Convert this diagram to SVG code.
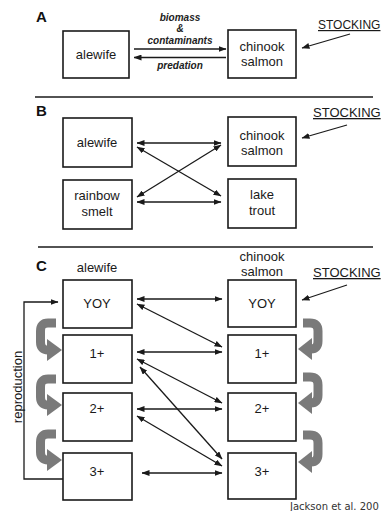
<svg xmlns="http://www.w3.org/2000/svg" width="381" height="511" viewBox="0 0 381 511">
  <style>
    .box { fill: #fff; stroke: #1a1a1a; stroke-width: 1.6; }
    .lbl { font-family: "Liberation Sans", Arial, sans-serif; font-size: 13px; fill: #1a1a1a; text-anchor: middle; }
    .panel { font-family: "Liberation Sans", Arial, sans-serif; font-size: 15px; font-weight: bold; fill: #111; }
    .flow { font-family: "Liberation Sans", Arial, sans-serif; font-size: 10px; font-weight: bold; font-style: italic; fill: #222; text-anchor: middle; }
    .stock { font-family: "Liberation Sans", Arial, sans-serif; font-size: 13px; fill: #1a1a1a; text-decoration: underline; }
    .link { stroke: #1a1a1a; stroke-width: 1.3; fill: none; }
    .both { marker-start: url(#head); marker-end: url(#head); }
    .one { marker-end: url(#head); }
    .rule { stroke: #1a1a1a; stroke-width: 1.6; }
    .hook { stroke: #7a7a7a; stroke-width: 9; fill: none; }
    .hookhead { fill: #7a7a7a; }
    .cite { font-family: "DejaVu Sans", sans-serif; font-size: 10px; fill: #333; }
  </style>
  <defs>
    <marker id="head" viewBox="0 0 8 6" refX="7.5" refY="3" markerWidth="8" markerHeight="6" markerUnits="userSpaceOnUse" orient="auto-start-reverse">
      <path d="M0,0 L8,3 L0,6 Z" fill="#1a1a1a"/>
    </marker>
  </defs>

  <rect width="381" height="511" fill="#fff"/>

  <!-- panel letters and separators -->
  <text class="panel" x="36" y="22">A</text>
  <text class="panel" x="36" y="116">B</text>
  <text class="panel" x="36" y="271">C</text>
  <line class="rule" x1="35" y1="97" x2="373" y2="97"/>
  <line class="rule" x1="38" y1="247" x2="373" y2="247"/>

  <!-- ===== Panel A ===== -->
  <g id="a-alewife">
    <rect class="box" x="63" y="31" width="66" height="47"/>
    <text class="lbl" x="96" y="59">alewife</text>
  </g>
  <g id="a-chinook">
    <rect class="box" x="228" y="30" width="68" height="48"/>
    <text class="lbl" x="262" y="51">chinook</text>
    <text class="lbl" x="262" y="66">salmon</text>
  </g>
  <g id="a-stocking">
    <text class="stock" x="318" y="29" style="font-size:12px">STOCKING</text>
  </g>
  <g id="a-flow-labels">
    <text class="flow" x="180" y="21">biomass</text>
    <text class="flow" x="180" y="32">&amp;</text>
    <text class="flow" x="180" y="44">contaminants</text>
    <text class="flow" x="180" y="69">predation</text>
  </g>

  <!-- ===== Panel B ===== -->
  <g id="b-alewife">
    <rect class="box" x="63" y="118" width="69" height="49"/>
    <text class="lbl" x="97" y="147">alewife</text>
  </g>
  <g id="b-chinook">
    <rect class="box" x="228" y="117" width="68" height="49"/>
    <text class="lbl" x="262" y="140">chinook</text>
    <text class="lbl" x="262" y="155">salmon</text>
  </g>
  <g id="b-smelt">
    <rect class="box" x="63" y="180" width="69" height="49"/>
    <text class="lbl" x="97" y="200">rainbow</text>
    <text class="lbl" x="97" y="216">smelt</text>
  </g>
  <g id="b-trout">
    <rect class="box" x="228" y="179" width="68" height="49"/>
    <text class="lbl" x="262" y="199">lake</text>
    <text class="lbl" x="262" y="215">trout</text>
  </g>
  <g id="b-stocking">
    <text class="stock" x="313" y="117">STOCKING</text>
  </g>

  <!-- ===== Panel C ===== -->
  <g id="c-headers">
    <text class="lbl" x="97" y="272">alewife</text>
    <text class="lbl" x="262" y="261">chinook</text>
    <text class="lbl" x="262" y="276">salmon</text>
    <text class="stock" x="313" y="277">STOCKING</text>
  </g>
  <g id="c-ale-yoy">
    <rect class="box" x="63" y="280" width="69" height="48"/>
    <text class="lbl" x="97" y="308">YOY</text>
  </g>
  <g id="c-ale-1">
    <rect class="box" x="63" y="335" width="69" height="48"/>
    <text class="lbl" x="97" y="358">1+</text>
  </g>
  <g id="c-ale-2">
    <rect class="box" x="63" y="393" width="69" height="48"/>
    <text class="lbl" x="97" y="413">2+</text>
  </g>
  <g id="c-ale-3">
    <rect class="box" x="63" y="453" width="69" height="47"/>
    <text class="lbl" x="97" y="476">3+</text>
  </g>
  <g id="c-chi-yoy">
    <rect class="box" x="228" y="280" width="68" height="47"/>
    <text class="lbl" x="262" y="308">YOY</text>
  </g>
  <g id="c-chi-1">
    <rect class="box" x="228" y="335" width="68" height="48"/>
    <text class="lbl" x="262" y="358">1+</text>
  </g>
  <g id="c-chi-2">
    <rect class="box" x="228" y="393" width="68" height="48"/>
    <text class="lbl" x="262" y="413">2+</text>
  </g>
  <g id="c-chi-3">
    <rect class="box" x="228" y="453" width="68" height="46"/>
    <text class="lbl" x="262" y="476">3+</text>
  </g>
  <g id="c-reproduction-label">
    <text class="lbl" transform="translate(22,387) rotate(-90)" x="0" y="0">reproduction</text>
  </g>

  <!-- growth hooks between age classes -->
  <g id="growth-hooks">
    <path class="hook" d="M56,323 L48,323 Q40.5,323 40.5,331 L40.5,342 Q40.5,350 48,350"/>
    <polygon class="hookhead" points="47,339 62,350 47,361"/>
    <path class="hook" d="M56,379 L48,379 Q40.5,379 40.5,387 L40.5,397 Q40.5,405 48,405"/>
    <polygon class="hookhead" points="47,394 62,405 47,416"/>
    <path class="hook" d="M56,434 L48,434 Q40.5,434 40.5,442 L40.5,452 Q40.5,460 48,460"/>
    <polygon class="hookhead" points="47,449 62,460 47,471"/>

    <path class="hook" d="M303,323 L310,323 Q318,323 318,331 L318,341 Q318,349 311,349"/>
    <polygon class="hookhead" points="312,338 298,349 312,360"/>
    <path class="hook" d="M303,377 L310,377 Q318,377 318,385 L318,395 Q318,403 311,403"/>
    <polygon class="hookhead" points="312,392 298,403 312,414"/>
    <path class="hook" d="M303,435 L310,435 Q318,435 318,443 L318,454 Q318,462 311,462"/>
    <polygon class="hookhead" points="312,451 298,462 312,473"/>
  </g>

  <!-- connectors -->
  <g id="connectors">
    <!-- A -->
    <line class="link one" x1="134" y1="49" x2="226" y2="49"/>
    <line class="link one" x1="226" y1="57.5" x2="134" y2="57.5"/>
    <line class="link one" x1="350" y1="34" x2="302" y2="48"/>
    <!-- B -->
    <line class="link both" x1="137" y1="143" x2="221" y2="143"/>
    <line class="link both" x1="137" y1="202" x2="221" y2="202"/>
    <line class="link both" x1="137" y1="147" x2="221" y2="196"/>
    <line class="link both" x1="137" y1="197" x2="221" y2="145"/>
    <line class="link one" x1="347" y1="125" x2="302" y2="138"/>
    <!-- C -->
    <line class="link one" x1="347" y1="285" x2="302" y2="300"/>
    <line class="link both" x1="137" y1="299" x2="222" y2="299"/>
    <line class="link both" x1="137" y1="304" x2="222" y2="347"/>
    <line class="link both" x1="137" y1="352" x2="222" y2="352"/>
    <line class="link both" x1="137" y1="359" x2="222" y2="403"/>
    <line class="link both" x1="140" y1="367" x2="222" y2="459"/>
    <line class="link both" x1="137" y1="409" x2="222" y2="409"/>
    <line class="link both" x1="137" y1="416" x2="222" y2="466"/>
    <line class="link both" x1="142" y1="473" x2="222" y2="473"/>
    <!-- reproduction loop from 3+ back to YOY -->
    <polyline class="link one" points="63,479 24,479 24,302 58,302"/>
  </g>

  <text class="cite" x="290" y="510">Jackson et al. 200</text>
</svg>
